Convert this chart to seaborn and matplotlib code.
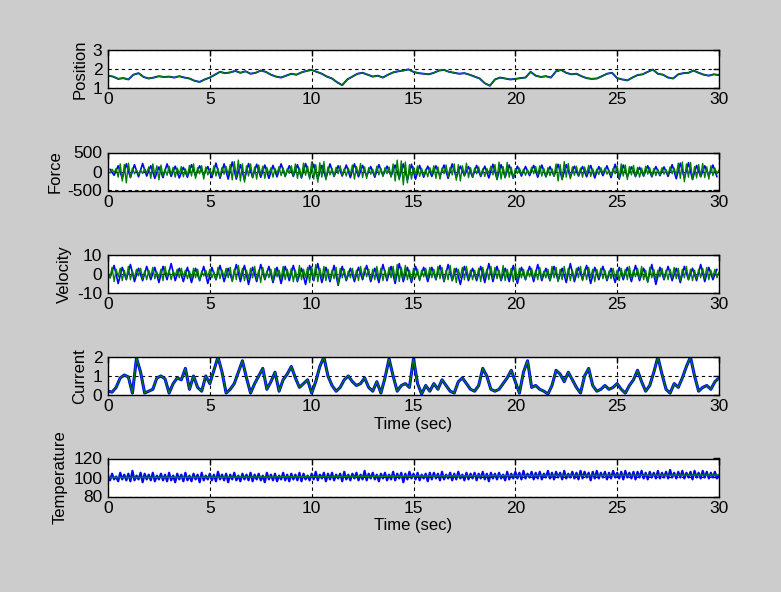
import numpy as np
import matplotlib
matplotlib.use("Agg")
import matplotlib.pyplot as plt
import seaborn as sns

# ---------------- data ----------------
x_ticks = [0, 5, 10, 15, 20, 25, 30]

# Position, sampled every 0.25 s
pos_t = [i * 0.25 for i in range(121)]
position = [1.65, 1.60, 1.48, 1.52, 1.45, 1.70, 1.78, 1.58, 1.50, 1.55,
            1.62, 1.58, 1.60, 1.55, 1.62, 1.55, 1.50, 1.38, 1.32, 1.45,
            1.55, 1.70, 1.85, 1.78, 1.82, 1.90, 1.80, 1.88, 1.75, 1.80,
            1.92, 1.85, 1.70, 1.60, 1.55, 1.65, 1.75, 1.70, 1.82, 1.90,
            1.95, 1.85, 1.75, 1.60, 1.50, 1.30, 1.15, 1.45, 1.60, 1.75,
            1.80, 1.70, 1.60, 1.65, 1.55, 1.70, 1.82, 1.88, 1.92, 1.98,
            1.85, 1.78, 1.75, 1.72, 1.80, 1.92, 1.95, 1.85, 1.80, 1.75,
            1.78, 1.70, 1.60, 1.50, 1.25, 1.12, 1.45, 1.55, 1.50, 1.45,
            1.48, 1.52, 1.55, 1.85, 1.65, 1.58, 1.62, 1.55, 1.88, 1.95,
            1.80, 1.72, 1.75, 1.62, 1.52, 1.48, 1.50, 1.62, 1.75, 1.80,
            1.52, 1.45, 1.40, 1.55, 1.68, 1.72, 1.85, 1.97, 1.75, 1.70,
            1.55, 1.50, 1.72, 1.78, 1.80, 1.92, 1.80, 1.70, 1.65, 1.72,
            1.68]

# time grids: fine signals every 0.1 s, coarse every 0.2 s
t_fine = [round(i * 0.1, 1) for i in range(301)]
t_g = [round(i * 0.2, 1) for i in range(151)]
t_b = [round(0.1 + i * 0.2, 1) for i in range(150)]

force_green = [10, -40, 60, -30, 80, -150, 200, -250, 180, -300,
               220, -150, 90, -60, 40, -80, 30, -50, 70, -40,
               120, -180, 200, -90, 150, -220, 170, -120, 60, -100,
               140, -80, 110, -150, 90, -60, 130, -140, 70, -110,
               160, -120, 200, -180, 100, -60, 150, -200, 120, -90,
               60, -100, 150, -120, 80, -140, 110, -70, 130, -90,
               180, -220, 260, -150, 300, -250, 200, -280, 150, -120,
               200, -160, 120, -200, 170, -90, 140, -180, 110, -70,
               100, -150, 80, -60, 130, -110, 90, -140, 70, -50,
               150, -120, 200, -180, 90, -160, 220, -100, 140, -200,
               250, -200, 180, -280, 230, -150, 260, -220, 120, -90,
               80, -130, 110, -60, 150, -100, 70, -120, 90, -80,
               170, -200, 130, -90, 210, -160, 120, -180, 100, -70,
               60, -110, 140, -90, 80, -130, 100, -60, 120, -150,
               200, -250, 300, -220, 280, -350, 250, -300, 180, -200,
               120, -90, 150, -130, 80, -110, 60, -140, 100, -70,
               150, -180, 120, -200, 90, -60, 170, -140, 110, -90,
               200, -230, 180, -250, 150, -120, 220, -160, 100, -140,
               90, -60, 120, -110, 70, -130, 80, -50, 140, -90,
               180, -220, 250, -200, 130, -170, 240, -150, 110, -180,
               70, -50, 90, -80, 60, -100, 40, -70, 110, -60,
               130, -90, 150, -120, 80, -140, 100, -110, 70, -130,
               200, -250, 180, -220, 260, -150, 210, -190, 120, -100,
               140, -110, 90, -150, 120, -80, 160, -130, 70, -90,
               60, -80, 100, -50, 90, -70, 40, -110, 80, -60,
               150, -180, 200, -120, 170, -210, 130, -90, 160, -140,
               110, -150, 90, -120, 140, -70, 100, -130, 80, -110,
               60, -90, 100, -70, 50, -80, 120, -60, 90, -100,
               220, -180, 250, -270, 200, -150, 240, -210, 130, -170,
               180, -130, 210, -160, 120, -200, 150, -110, 90, -60,
               40]
force_blue = [60, -100, 150, -180, 200, -160, 180, -140, 210, -120,
              150, -180, 120, -160, 200, -130, 140, -170, 110, -150,
              180, -120, 150, -100, 130, -160, 220, -180, 200, -200,
              250, -200, 180, -220, 210, -160, 190, -150, 170, -180,
              160, -140, 200, -120, 150, -130, 180, -170, 210, -150,
              190, -200, 160, -180, 200, -130, 150, -120, 170, -160,
              200, -140, 160, -120, 130, -150, 180, -110, 140, -120,
              170, -180, 200, -220, 190, -200, 160, -150, 140, -130,
              150, -120, 170, -180, 200, -160, 140, -110, 130, -150,
              160, -130, 140, -170, 190, -200, 180, -150, 170, -180,
              140, -120, 130, -110, 160, -150, 170, -140, 130, -120,
              190, -200, 180, -150, 140, -120, 130, -140, 160, -170,
              130, -110, 150, -160, 190, -200, 170, -140, 120, -130,
              110, -120, 150, -140, 130, -110, 120, -130, 180, -190,
              220, -180, 230, -210, 160, -140, 150, -120, 170, -140]

vel_green = [1.0, -2.0, 3.5, -4.0, 2.5, -1.5, 3.0, -3.5, 2.0, -2.5,
             4.0, -3.0, 1.5, -2.0, 2.5, -1.0, 3.0, -2.5, 1.5, -3.0,
             2.0, -1.5, 3.5, -2.5, 1.0, -2.0, 2.5, -3.5, 4.0, -1.5,
             2.0, -3.0, 1.5, -1.0, 2.5, -2.0, 3.0, -1.5, 2.0, -2.5,
             1.5, -2.5, 3.0, -2.0, 2.5, -3.5, 1.5, -1.0, 2.0, -1.5,
             2.5, -2.0, 1.0, -3.0, 3.5, -2.5, 2.0, -1.5, 3.0, -2.0,
             3.5, -4.0, 2.5, -3.0, 4.5, -2.0, 3.0, -3.5, 2.0, -2.5,
             3.0, -2.0, 4.0, -3.0, 2.0, -4.5, 3.5, -2.5, 1.5, -2.0,
             2.5, -3.5, 3.0, -1.5, 2.0, -2.5, 4.0, -3.0, 2.5, -2.0,
             3.0, -4.0, 2.0, -3.5, 4.5, -3.0, 2.5, -2.0, 3.5, -4.5,
             4.0, -3.0, 5.0, -4.0, 3.0, -2.5, 4.0, -3.5, 2.5, -3.0,
             2.0, -2.5, 3.5, -5.5, 3.0, -2.0, 2.5, -3.0, 1.5, -2.0,
             3.0, -2.5, 2.0, -3.5, 4.0, -2.0, 3.0, -1.5, 2.5, -3.0,
             2.5, -3.0, 4.0, -2.5, 3.0, -3.5, 2.0, -2.5, 3.5, -2.0,
             4.0, -3.5, 5.0, -4.0, 3.5, -2.5, 4.5, -3.0, 2.0, -3.5,
             3.0, -2.0, 2.5, -3.5, 2.0, -1.5, 3.0, -2.5, 3.5, -2.0,
             2.5, -3.0, 4.0, -2.5, 3.5, -4.0, 2.0, -3.0, 4.5, -3.5,
             3.0, -4.5, 2.5, -2.0, 3.5, -3.0, 4.0, -2.5, 2.0, -3.0,
             2.0, -2.5, 3.0, -4.0, 3.5, -2.0, 2.5, -3.0, 4.0, -2.5,
             3.5, -2.5, 2.0, -3.0, 4.5, -3.5, 2.5, -2.0, 3.0, -4.0,
             4.0, -3.5, 3.0, -2.0, 2.5, -3.0, 2.0, -1.5, 3.0, -2.5,
             2.0, -3.0, 3.5, -2.5, 1.5, -2.0, 2.5, -3.5, 4.0, -2.0,
             3.5, -4.0, 2.5, -3.0, 4.0, -2.5, 3.0, -3.5, 2.0, -2.5,
             3.0, -2.0, 4.0, -3.5, 2.5, -3.0, 3.5, -2.0, 2.5, -4.0,
             2.5, -2.0, 3.0, -2.5, 2.0, -3.0, 1.5, -2.5, 3.0, -2.0,
             2.0, -3.5, 3.0, -2.0, 2.5, -3.0, 4.0, -2.5, 2.0, -1.5,
             3.0, -2.5, 4.0, -3.0, 2.0, -4.5, 3.5, -2.0, 2.5, -3.0,
             2.0, -1.5, 3.0, -2.5, 2.0, -3.0, 2.5, -2.0, 3.5, -2.5,
             3.0, -3.5, 2.5, -2.0, 4.0, -3.0, 2.5, -3.5, 2.0, -2.5,
             2.5, -2.0, 3.0, -2.5, 3.5, -3.0, 2.0, -1.5, 2.5, -2.0,
             1.0]
vel_blue = [-2.0, 4.5, -5.0, 3.5, -3.0, 5.0, -4.0, 3.0, -3.5, 4.0,
            -3.0, 3.5, -4.5, 4.0, -3.0, 5.5, -3.5, 3.0, -4.0, 3.5,
            -4.5, 3.0, -3.5, 4.0, -5.0, 3.5, -3.0, 4.5, -4.0, 3.0,
            -3.5, 5.0, -4.0, 4.5, -5.5, 3.5, -4.0, 5.0, -3.0, 4.0,
            -4.5, 3.5, -5.0, 4.0, -3.5, 4.5, -4.0, 3.0, -5.5, 4.5,
            -3.5, 5.5, -4.5, 3.5, -4.0, 4.5, -6.0, 4.0, -3.5, 3.0,
            -4.0, 3.5, -3.0, 4.5, -4.0, 3.0, -4.5, 5.0, -3.5, 4.0,
            -5.0, 5.5, -4.0, 3.5, -4.5, 4.0, -3.0, 3.5, -4.0, 3.5,
            -3.0, 4.5, -4.0, 5.0, -3.5, 3.0, -5.5, 4.0, -3.5, 3.0,
            -3.5, 4.0, -4.5, 5.5, -4.0, 4.0, -3.5, 3.0, -4.0, 4.5,
            -5.0, 3.5, -3.0, 4.0, -4.0, 5.0, -3.5, 3.0, -3.5, 4.0,
            -3.5, 3.0, -4.5, 5.5, -4.0, 3.5, -3.0, 4.5, -5.0, 3.5,
            -3.0, 4.0, -3.5, 3.0, -4.5, 3.5, -3.0, 3.5, -4.0, 4.5,
            -3.5, 3.0, -4.0, 5.0, -5.5, 3.5, -3.0, 4.0, -3.5, 3.0,
            -4.5, 4.0, -3.0, 3.0, -3.5, 5.0, -4.0, 3.5, -3.0, 2.5]

current = [0.2, 0.15, 0.4, 0.9, 1.05, 0.95, 0.1, 1.95, 1.2, 0.1,
           0.2, 0.3, 0.9, 1.0, 0.85, 0.1, 0.6, 0.9, 0.8, 1.4,
           0.3, 1.0, 0.4, 0.2, 1.0, 0.6, 1.3, 2.0, 1.2, 0.1,
           0.3, 0.6, 1.2, 1.8, 0.9, 0.1, 0.6, 1.0, 1.4, 0.3,
           0.7, 1.2, 0.2, 0.8, 1.1, 1.5, 0.9, 0.4, 0.6, 0.8,
           0.1, 0.7, 1.5, 2.0, 1.0, 0.5, 0.2, 0.4, 0.8, 1.0,
           0.7, 0.5, 0.6, 0.9, 0.4, 0.2, 0.7, 0.1, 0.9, 1.9,
           1.0, 0.2, 0.5, 0.6, 0.4, 1.9, 0.6, 0.05, 0.5, 0.2,
           0.6, 0.3, 0.8, 0.5, 0.2, 0.1, 0.7, 0.9, 0.6, 0.3,
           0.2, 0.5, 1.4, 1.0, 0.3, 0.2, 0.3, 0.6, 0.9, 1.3,
           0.7, 0.1, 1.2, 1.8, 0.4, 0.5, 0.3, 0.2, 0.05, 0.5,
           1.3, 1.1, 0.7, 1.2, 0.8, 0.4, 0.1, 1.0, 1.4, 0.5,
           0.2, 0.3, 0.5, 0.3, 0.4, 0.6, 0.3, 0.1, 0.5, 0.8,
           1.3, 0.7, 0.2, 0.5, 1.2, 2.0, 1.1, 0.3, 0.1, 0.6,
           0.4, 0.9, 1.5, 2.0, 1.0, 0.2, 0.4, 0.5, 0.3, 0.7,
           0.9]

temp_blue = [102, 97, 104, 98, 101, 96, 105, 98, 103, 97,
             104, 96, 107, 97, 102, 98, 105, 95, 104, 98,
             103, 97, 105, 96, 102, 98, 104, 97, 103, 96,
             105, 97, 102, 95, 104, 98, 103, 96, 105, 97,
             102, 96, 104, 98, 103, 95, 105, 97, 102, 98,
             104, 97, 103, 96, 106, 98, 103, 97, 104, 95,
             103, 98, 105, 97, 102, 96, 104, 98, 103, 97,
             105, 96, 103, 98, 104, 97, 102, 95, 105, 98,
             103, 97, 104, 96, 102, 98, 105, 97, 103, 96,
             104, 98, 103, 97, 105, 96, 104, 98, 102, 97,
             104, 98, 106, 97, 103, 99, 105, 96, 104, 98,
             105, 97, 103, 99, 104, 96, 106, 98, 103, 97,
             104, 99, 105, 97, 103, 98, 107, 97, 104, 99,
             105, 98, 103, 96, 104, 99, 105, 97, 103, 98,
             106, 97, 104, 99, 105, 95, 104, 98, 106, 99,
             104, 98, 105, 97, 103, 99, 104, 96, 105, 98,
             105, 99, 104, 97, 106, 98, 103, 99, 105, 97,
             104, 98, 106, 99, 103, 97, 105, 98, 104, 99,
             105, 97, 104, 99, 106, 98, 104, 96, 105, 99,
             104, 98, 105, 99, 103, 97, 106, 98, 104, 99,
             106, 99, 105, 98, 107, 99, 104, 100, 106, 98,
             105, 99, 106, 98, 104, 100, 107, 99, 105, 98,
             106, 100, 105, 98, 107, 99, 104, 100, 106, 99,
             105, 98, 107, 99, 106, 100, 105, 97, 106, 99,
             107, 99, 105, 100, 106, 98, 105, 99, 107, 100,
             105, 99, 106, 98, 107, 100, 105, 99, 106, 98,
             106, 100, 107, 99, 105, 98, 106, 100, 105, 99,
             107, 99, 105, 100, 106, 99, 108, 100, 105, 99,
             106, 100, 107, 99, 105, 100, 106, 98, 107, 100,
             105, 99, 107, 100, 106, 99, 105, 100, 106, 99,
             103]
temp_green_t = [0, 5, 10, 15, 20, 25, 30]
temp_green = [100.0, 100.3, 100.8, 101.5, 102.0, 102.3, 102.6]

# ---------------- styling ----------------
sns.set_style("white")
plt.rcParams['font.family'] = ['Liberation Sans', 'DejaVu Sans']
plt.rcParams['axes.unicode_minus'] = False

BLUE = (0, 0, 1)
GREEN = (0, 0.5, 0)
BG = (0.8, 0.8, 0.8)

W, H = 781, 592
fig = plt.figure(figsize=(W / 100, H / 100), dpi=100, facecolor=BG)

left_px, right_px = 108, 719
tops_px = [50, 152.5, 255, 357, 458.5]
height_px = 38

panels = [
    dict(label="Position", ylim=(1, 3), yticks=[1, 2, 3], xlabel=None),
    dict(label="Force", ylim=(-500, 500), yticks=[-500, 0, 500], xlabel=None),
    dict(label="Velocity", ylim=(-10, 10), yticks=[-10, 0, 10], xlabel=None),
    dict(label="Current", ylim=(0, 2), yticks=[0, 1, 2], xlabel="Time (sec)"),
    dict(label="Temperature", ylim=(80, 120), yticks=[80, 100, 120], xlabel="Time (sec)"),
]

axes = []
for top, p in zip(tops_px, panels):
    ax = fig.add_axes([left_px / W, 1 - (top + height_px) / H,
                       (right_px - left_px) / W, height_px / H])
    ax.set_facecolor("white")
    axes.append(ax)

ax1, ax2, ax3, ax4, ax5 = axes

sns.lineplot(x=pos_t, y=position, ax=ax1, color=BLUE, linewidth=1.4, estimator=None)
sns.lineplot(x=pos_t, y=position, ax=ax1, color=GREEN, linewidth=0.9, estimator=None)

sns.lineplot(x=t_b, y=force_blue, ax=ax2, color=BLUE, linewidth=1.2, estimator=None)
sns.lineplot(x=t_fine, y=force_green, ax=ax2, color=GREEN, linewidth=1.0, estimator=None)

sns.lineplot(x=t_b, y=vel_blue, ax=ax3, color=BLUE, linewidth=1.2, estimator=None)
sns.lineplot(x=t_fine, y=vel_green, ax=ax3, color=GREEN, linewidth=1.0, estimator=None)

sns.lineplot(x=t_g, y=current, ax=ax4, color=BLUE, linewidth=2.2, estimator=None)
sns.lineplot(x=t_g, y=current, ax=ax4, color=GREEN, linewidth=0.9, estimator=None)

sns.lineplot(x=t_fine, y=temp_blue, ax=ax5, color=BLUE, linewidth=1.6, estimator=None)
sns.lineplot(x=temp_green_t, y=temp_green, ax=ax5, color=GREEN, linewidth=1.2, estimator=None)

for ax, p in zip(axes, panels):
    ax.set_xlim(0, 30)
    ax.set_ylim(*p["ylim"])
    ax.set_xticks(x_ticks)
    ax.set_yticks(p["yticks"])
    ax.set_xticklabels([str(v) for v in x_ticks])
    ax.set_yticklabels([str(v) for v in p["yticks"]])
    ax.grid(True, color="black", linestyle=(0, (3, 3)), linewidth=0.8)
    ax.set_axisbelow(True)
    for s in ax.spines.values():
        s.set_visible(True)
        s.set_color("black")
        s.set_linewidth(1.0)
    ax.tick_params(direction="in", length=4, width=1, colors="black",
                   labelsize=12.5, top=True, right=True, pad=4)
    ax.tick_params(axis="x", pad=3)
    ax.set_ylabel(p["label"], fontsize=12, color="black", labelpad=4)
    if p["xlabel"]:
        ax.set_xlabel(p["xlabel"], fontsize=12, color="black", labelpad=2)
    else:
        ax.set_xlabel("")

fig.savefig("out.png", dpi=100, facecolor=BG)
